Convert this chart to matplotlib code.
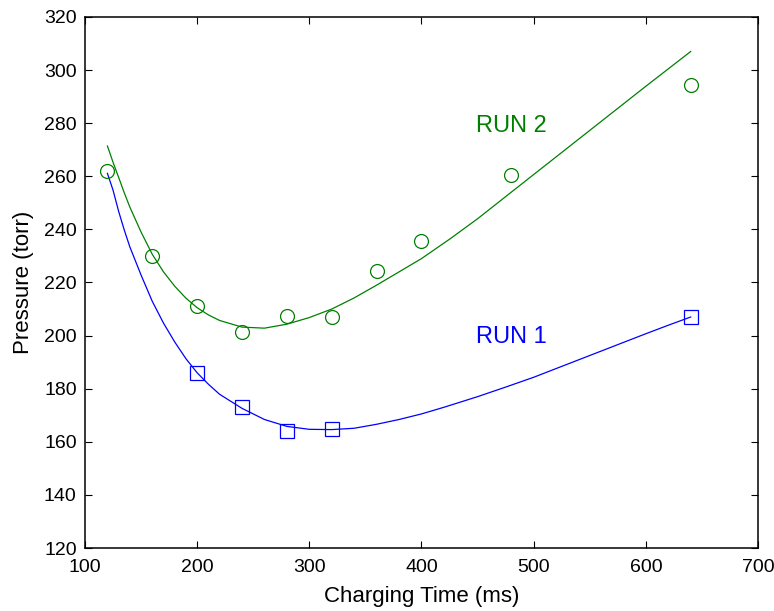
import matplotlib
matplotlib.use("Agg")
import matplotlib.pyplot as plt

plt.rcParams['font.family'] = ['Liberation Sans', 'DejaVu Sans']

# Measured points
run2_time = [120, 160, 200, 240, 280, 320, 360, 400, 480, 640]
run2_pressure = [262, 230, 211, 201.5, 207.5, 207, 224.5, 235.5, 260.5, 294.5]
run1_time = [200, 240, 280, 320, 640]
run1_pressure = [186, 173, 164, 165, 207]

# Fitted trend curves
run2_fit_time = [120, 125, 130, 135, 140, 150, 160, 170, 180, 190, 200, 210, 220,
                 240, 260, 280, 300, 320, 340, 360, 380, 400, 425, 450, 480,
                 520, 560, 600, 640]
run2_fit_pressure = [271.4, 265.3, 259.6, 253.8, 248.4, 239.0, 230.6, 224.0, 218.6,
                     214.1, 210.5, 207.8, 205.7, 203.2, 202.8, 204.3, 206.8, 210.0,
                     214.2, 219.0, 224.0, 229.0, 236.3, 244.0, 254.0, 267.3, 280.6,
                     293.9, 307.0]
run1_fit_time = [120, 125, 130, 135, 140, 150, 160, 170, 180, 190, 200, 210, 220,
                 240, 260, 280, 300, 320, 340, 360, 380, 400, 420, 450, 475, 500,
                 525, 550, 575, 600, 620, 640]
run1_fit_pressure = [261.1, 254.8, 246.8, 239.8, 233.4, 222.8, 212.9, 204.7, 197.6,
                     191.3, 186.0, 181.7, 177.9, 172.6, 168.4, 165.8, 164.7, 164.6,
                     165.1, 166.6, 168.4, 170.5, 173.0, 177.0, 180.6, 184.3, 188.4,
                     192.5, 196.6, 200.7, 203.9, 207.0]

x_ticks = [100, 200, 300, 400, 500, 600, 700]
y_ticks = [120, 140, 160, 180, 200, 220, 240, 260, 280, 300, 320]

green = '#008000'
blue = '#0000ff'

fig = plt.figure(figsize=(7.74, 6.11), dpi=100)
ax = fig.add_axes([0.1098, 0.1031, 0.8695, 0.8691])

ax.plot(run2_fit_time, run2_fit_pressure, color=green, lw=0.9)
ax.plot(run1_fit_time, run1_fit_pressure, color=blue, lw=0.9)
ax.plot(run2_time, run2_pressure, linestyle='none', marker='o', ms=10,
        mfc='none', mec=green, mew=0.9)
ax.plot(run1_time, run1_pressure, linestyle='none', marker='s', ms=9.5,
        mfc='none', mec=blue, mew=0.9)

ax.text(449, 276.8, 'RUN 2', color=green, fontsize=17)
ax.text(449, 197.2, 'RUN 1', color=blue, fontsize=17)

ax.set_xlim(100, 700)
ax.set_ylim(120, 320)
ax.set_xticks(x_ticks)
ax.set_yticks(y_ticks)
ax.tick_params(axis='both', direction='in', length=5, width=0.8, labelsize=14,
               top=True, right=True)
ax.tick_params(axis='x', pad=8)
ax.tick_params(axis='y', pad=6)
for s in ax.spines.values():
    s.set_linewidth(1.1)

ax.set_xlabel('Charging Time (ms)', fontsize=16, labelpad=7)
ax.set_ylabel('Pressure (torr)', fontsize=16, labelpad=7)

fig.savefig('out.png', dpi=100)
